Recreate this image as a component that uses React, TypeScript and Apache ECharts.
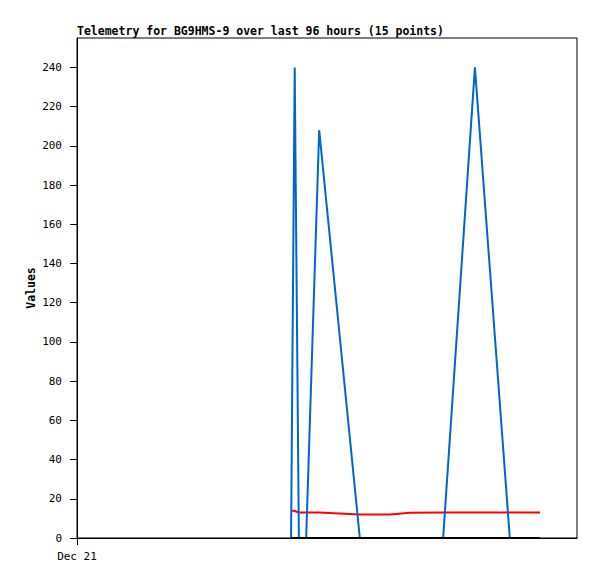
import React, { useEffect, useRef } from "react";
import * as echarts from "echarts";

// hours since start of axis (Dec 21)
const times = [41.1, 41.8, 42.6, 44.0, 46.5, 54.3, 60.1, 63.9, 70.3, 76.4, 83.1, 88.9];
const blueValues = [0, 240, 0, 0, 208, 0, 0, 0, 0, 240, 0, 0];
const redValues = [14, 13.8, 13, 13, 13, 12, 12, 12.9, 13, 13, 13, 13];
const blackValues = [0, 0, 0, 0, 0, 0, 0, 0, 0, 0, 0, 0];
const yTicks = [0, 20, 40, 60, 80, 100, 120, 140, 160, 180, 200, 220, 240];
const xLabel = "Dec 21";
const titleText = "Telemetry for BG9HMS-9 over last 96 hours (15 points)";

const font = "DejaVu Sans Mono";

export default function App() {
  const ref = useRef<HTMLDivElement>(null);
  useEffect(() => {
    document.body.style.margin = "0";
    const chart = echarts.init(ref.current!, null, { renderer: "svg" });
    const pair = (vals: number[]) => times.map((t, i) => [t, vals[i]]);
    chart.setOption({
      animation: false,
      backgroundColor: "#fff",
      title: {
        text: titleText,
        left: 77,
        top: 25,
        padding: 0,
        textStyle: { fontFamily: font, fontSize: 11.5, fontWeight: "bold", color: "#000" },
      },
      grid: {
        left: 77,
        top: 38,
        right: 20,
        bottom: 41,
        show: true,
        borderColor: "#000",
        borderWidth: 1,
        backgroundColor: "transparent",
      },
      xAxis: {
        type: "value",
        min: 0,
        max: 96,
        interval: 96,
        axisLine: { show: true, lineStyle: { color: "#000", width: 1 } },
        axisTick: { show: true, length: 7, customValues: [0], lineStyle: { color: "#000" } },
        axisLabel: {
          customValues: [0],
          formatter: (v: number) => (v === 0 ? xLabel : ""),
          fontFamily: font,
          fontSize: 11,
          color: "#000",
          margin: 13,
        },
        splitLine: { show: false },
      },
      yAxis: {
        type: "value",
        min: 0,
        max: 255,
        interval: 20,
        name: "Values",
        nameLocation: "middle",
        nameGap: 40,
        nameMoveOverlap: false,
        nameRotate: 90,
        nameTextStyle: { fontFamily: font, fontSize: 11.5, fontWeight: "bold", color: "#000" },
        axisLine: { show: true, lineStyle: { color: "#000", width: 1 } },
        axisTick: { show: true, length: 7, customValues: yTicks, lineStyle: { color: "#000" } },
        axisLabel: {
          customValues: yTicks,
          fontFamily: font,
          fontSize: 11,
          color: "#000",
          margin: 15,
        },
        splitLine: { show: false },
      },
      series: [
        {
          type: "line",
          data: pair(redValues),
          showSymbol: false,
          lineStyle: { color: "#ff0000", width: 2 },
          z: 2,
        },
        {
          type: "line",
          data: pair(blueValues),
          showSymbol: false,
          lineStyle: { color: "#0066cc", width: 2 },
          z: 3,
        },
        {
          type: "line",
          data: pair(blackValues),
          showSymbol: false,
          lineStyle: { color: "#000000", width: 2 },
          z: 4,
        },
      ],
    });
    return () => chart.dispose();
  }, []);
  return <div ref={ref} style={{ width: 597, height: 579 }} />;
}
